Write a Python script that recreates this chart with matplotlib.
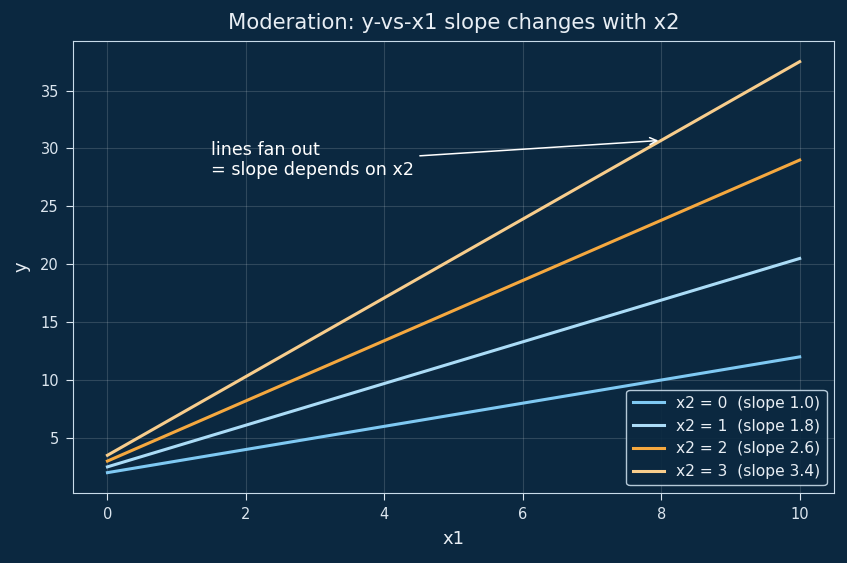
import numpy as np
import matplotlib
matplotlib.use("Agg")
import matplotlib.pyplot as plt

# moderation lines: y = b0 + slope * x1
x1 = np.linspace(0, 10, 11)
x2_levels = [0, 1, 2, 3]
intercepts = [2.0, 2.5, 3.0, 3.5]
slopes = [1.0, 1.8, 2.6, 3.4]
colors = ['#7fc9f3', '#abdcf7', '#f5a83f', '#f8cd8c']

bg = '#0b2840'
fg = '#e8eef4'

fig, ax = plt.subplots(figsize=(8.47, 5.63), dpi=100)
fig.patch.set_facecolor(bg)
ax.set_facecolor(bg)

for lvl, b0, b1, c in zip(x2_levels, intercepts, slopes, colors):
    ax.plot(x1, b0 + b1 * x1, color=c, linewidth=2.2,
            label=f'x2 = {lvl}  (slope {b1:.1f})')

ax.annotate('lines fan out\n= slope depends on x2',
            xy=(8, intercepts[3] + slopes[3] * 8), xytext=(1.5, 29),
            color='white', fontsize=12.6, va='center',
            arrowprops=dict(arrowstyle='->', color='white', lw=1.1,
                            relpos=(1.0, 0.6)))

ax.set_title('Moderation: y-vs-x1 slope changes with x2', color=fg,
             fontsize=15.2, pad=9)
ax.set_xlabel('x1', color=fg, fontsize=13, labelpad=6)
ax.set_ylabel('y', color=fg, fontsize=13, labelpad=7)
ax.tick_params(colors='#dce6ef', labelsize=10.5, length=5, pad=5)
for s in ax.spines.values():
    s.set_color('#c9dcea')
ax.grid(True, color='white', alpha=0.15, linewidth=0.8)

leg = ax.legend(loc='lower right', fontsize=11.2, facecolor=bg, edgecolor='#c9dcea',
                framealpha=0.9)
for t in leg.get_texts():
    t.set_color(fg)

fig.subplots_adjust(left=0.086, right=0.985, top=0.927, bottom=0.124)
plt.savefig('out.png', facecolor=bg)
